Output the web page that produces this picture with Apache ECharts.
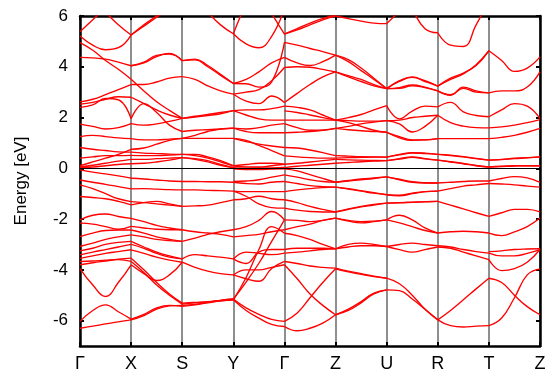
<!DOCTYPE html>
<html>
<head>
<meta charset="utf-8">
<script src="https://cdn.jsdelivr.net/npm/echarts@6/dist/echarts.min.js"></script>
<style>html,body{margin:0;padding:0;background:#fff}#c{width:551px;height:373px}</style>
</head>
<body>
<div id="c"></div>
<script>
// High-symmetry path labels (k = 0..9)
const kLabels = ['Γ','X','S','Y','Γ','Z','U','R','T','Z'];
const yTicks = [-6,-4,-2,0,2,4,6];

// Bands per path segment; each row = energies (eV) evenly spaced along the segment
const bandsGX = [
 [5.38,5.85,6.33,6.8,7.3],[5.21,4.85,4.67,4.75,5.25],[7.5,6.8,6.15,5.66,5.25],
 [4.95,4.65,4.25,3.9,3.51],[4.37,4.35,4.3,4.18,4.04],[2.62,2.72,2.9,3.1,3.3],
 [2.53,2.6,2.72,2.82,2.8],[2.4,2.5,2.75,2.7,1.95],[1.74,1.65,1.55,1.6,1.76],
 [1.25,1.3,1.25,1.2,1.17],[0.82,0.75,0.7,0.65,0.64],[0.4,0.45,0.5,0.5,0.51],
 [0.1,0.25,0.4,0.55,0.75],[0.05,0.12,0.2,0.28,0.35],[0.02,0.05,0.1,0.15,0.18],
 [-0.06,-0.15,-0.22,-0.3,-0.39],[-0.46,-0.55,-0.63,-0.72,-0.81],[-0.65,-0.8,-1.0,-1.2,-1.31],
 [-1.11,-1.15,-1.2,-1.3,-1.44],[-2.03,-1.85,-1.8,-1.9,-1.97],[-2.16,-2.2,-2.3,-2.4,-2.29],
 [-2.69,-2.55,-2.45,-2.43,-2.43],[-3.08,-2.95,-2.8,-2.7,-2.62],[-3.25,-3.15,-3.0,-2.92,-2.88],
 [-3.41,-3.3,-3.2,-3.1,-3.0],[-3.55,-3.45,-3.35,-3.28,-3.21],[-3.67,-3.65,-3.62,-3.6,-3.67],
 [-3.8,-3.72,-3.65,-3.58,-3.54],[-3.95,-4.6,-5.05,-4.5,-3.8],[-6.03,-5.6,-5.38,-5.65,-5.94],
 [-6.3,-6.22,-6.13,-6.05,-5.97]
];
const bandsXS = [
 [5.25,5.6,5.95,6.3,6.6],[5.25,5.65,6.0,6.35,6.7],[4.04,4.18,4.45,4.5,4.24],
 [4.04,4.15,4.4,4.53,4.24],[3.51,3.05,2.62,2.28,1.97],[3.3,3.3,3.4,3.55,3.61],
 [2.8,2.55,2.3,2.1,1.97],[1.95,2.55,2.2,1.7,1.45],[1.76,1.7,1.75,1.85,1.97],
 [1.17,1.12,1.12,1.15,1.18],[0.75,0.8,0.95,1.1,1.18],[0.64,0.6,0.58,0.56,0.55],
 [0.51,0.5,0.5,0.52,0.55],[0.35,0.35,0.38,0.4,0.42],[0.18,0.2,0.25,0.32,0.42],
 [-0.39,-0.42,-0.46,-0.5,-0.52],[-0.81,-0.8,-0.82,-0.84,-0.85],[-1.31,-1.35,-1.4,-1.45,-1.5],
 [-1.44,-1.35,-1.3,-1.4,-1.5],[-1.97,-2.1,-2.25,-2.35,-2.42],[-2.29,-2.35,-2.4,-2.42,-2.42],
 [-2.43,-2.55,-2.7,-2.8,-2.88],[-2.62,-2.7,-2.8,-2.85,-2.88],[-2.88,-3.1,-3.3,-3.45,-3.57],
 [-3.0,-3.15,-3.35,-3.5,-3.57],[-3.21,-3.35,-3.5,-3.62,-3.7],[-3.8,-4.15,-4.42,-4.2,-3.7],
 [-3.54,-4.0,-4.5,-4.95,-5.31],[-3.67,-4.1,-4.6,-5.0,-5.35],[-5.94,-5.75,-5.5,-5.4,-5.44],
 [-5.97,-5.8,-5.55,-5.42,-5.4]
];
const bandsSY = [
 [7.5,6.8,6.15,5.65,5.3],[4.24,4.3,4.05,3.7,3.34],[4.24,4.27,4.0,3.66,3.34],
 [3.61,3.5,3.25,3.05,2.92],[1.97,2.05,2.12,2.2,2.27],[1.97,2.02,2.08,2.15,2.27],
 [1.45,1.5,1.52,1.55,1.58],[1.18,1.18,1.18,1.18,1.18],[1.18,1.3,1.45,1.55,1.58],
 [0.55,0.55,0.45,0.3,0.1],[0.55,0.5,0.4,0.25,0.1],[0.42,0.38,0.3,0.15,0.03],
 [0.42,0.35,0.25,0.12,0.03],
 [-0.52,-0.52,-0.53,-0.53,-0.55],[-0.85,-0.85,-0.87,-0.88,-0.9],[-1.5,-1.48,-1.45,-1.35,-1.24],
 [-2.42,-2.5,-2.55,-2.6,-2.7],[-2.88,-2.75,-2.6,-2.5,-2.42],[-3.57,-3.4,-3.45,-3.5,-3.57],
 [-3.7,-3.9,-4.05,-4.15,-4.2],[-5.31,-5.28,-5.25,-5.2,-5.15],[-5.35,-5.3,-5.27,-5.22,-5.18],
 [-5.44,-5.38,-5.3,-5.22,-5.18],[-5.4,-5.36,-5.28,-5.2,-5.15]
];
const bandsYG = [
 [5.3,6.5,7.5,8.2,8.8],[5.3,4.9,4.75,5.2,6.3],[8.5,7.8,7.0,6.1,5.29],
 [3.34,3.5,3.8,4.15,4.37],[3.34,3.33,3.2,3.4,4.96],[2.92,2.65,2.55,2.85,2.59],
 [2.92,3.0,3.1,3.45,3.97],[2.27,2.3,2.3,2.35,2.45],[2.27,2.1,1.95,1.9,1.9],
 [1.58,1.55,1.6,1.7,1.76],[1.58,1.45,1.4,1.4,1.4],[1.18,1.05,0.95,0.88,0.82],
 [1.18,1.1,0.9,0.7,0.49],[0.1,0.15,0.2,0.2,0.16],[0.1,0.05,0.05,0.1,0.16],
 [0.03,0.0,0.02,0.02,0.03],
 [-0.02,-0.05,-0.05,-0.03,-0.02],[-0.52,-0.5,-0.45,-0.35,-0.26],[-0.55,-0.6,-0.62,-0.55,-0.52],
 [-0.9,-0.92,-0.92,-0.92,-0.92],[-0.9,-1.1,-1.4,-1.55,-1.57],[-1.24,-1.2,-1.1,-1.2,-1.24],
 [-2.42,-2.3,-2.05,-1.7,-2.03],[-2.7,-2.65,-2.6,-2.5,-2.42],[-3.57,-3.75,-3.3,-3.2,-3.2],
 [-3.57,-3.3,-3.35,-3.4,-3.34],[-4.2,-4.35,-4.45,-3.95,-3.67],[-4.2,-4.0,-4.0,-3.9,-3.8],
 [-5.15,-4.48,-3.74,-2.88,-2.03],[-5.18,-4.3,-3.2,-2.3,-2.56],[-5.15,-5.5,-5.75,-5.95,-6.03],
 [-5.18,-5.6,-5.9,-6.15,-6.23]
];
const bandsGZ = [
 [5.29,5.5,5.72,5.9,6.05],[5.29,5.45,5.65,5.85,6.0],[4.96,4.85,4.72,4.6,4.46],
 [4.37,4.15,4.05,4.2,4.46],[3.97,4.0,3.98,3.9,3.8],[2.59,2.95,3.3,3.6,3.8],
 [2.45,2.4,2.3,2.1,1.9],[2.26,2.2,2.1,2.0,1.9],[1.9,1.9,1.9,1.9,1.9],
 [1.76,1.6,1.5,1.5,1.57],[1.4,1.42,1.45,1.5,1.57],[0.82,0.8,0.72,0.62,0.5],
 [0.49,0.45,0.42,0.4,0.4],[0.16,0.2,0.25,0.3,0.35],[0.03,0.08,0.12,0.16,0.2],
 [-0.02,-0.1,-0.25,-0.4,-0.55],[-0.26,-0.35,-0.45,-0.52,-0.55],[-0.52,-0.6,-0.68,-0.72,-0.74],
 [-0.92,-0.85,-0.8,-0.76,-0.74],[-1.24,-1.35,-1.5,-1.62,-1.72],[-1.57,-1.65,-1.7,-1.72,-1.72],
 [-2.03,-2.05,-2.1,-2.05,-1.96],[-2.42,-2.3,-2.2,-2.05,-1.96],[-2.56,-2.65,-2.8,-3.0,-3.17],
 [-3.2,-3.15,-3.15,-3.15,-3.17],[-3.34,-3.3,-3.25,-3.2,-3.17],[-3.67,-3.75,-3.85,-3.9,-3.93],
 [-3.8,-4.35,-4.95,-5.4,-5.77],[-6.03,-5.7,-5.1,-4.5,-3.96],[-6.23,-6.4,-6.3,-6.1,-5.77]
];
const bandsZU = [
 [6.0,5.9,5.8,5.72,5.7],[6.05,6.2,6.4,6.6,6.8],[4.46,4.28,3.95,3.55,3.14],
 [4.46,4.2,3.85,3.5,3.14],[3.8,3.65,3.5,3.3,3.14],[3.8,3.6,3.42,3.25,3.14],
 [1.9,2.0,2.12,2.3,2.47],[1.9,1.8,1.65,1.5,1.42],[1.9,1.88,1.86,1.86,1.88],
 [1.57,1.65,1.75,1.82,1.88],[1.57,1.52,1.48,1.45,1.42],[0.5,0.48,0.46,0.45,0.44],
 [0.4,0.42,0.43,0.44,0.44],[0.35,0.33,0.32,0.31,0.3],[0.2,0.23,0.26,0.28,0.3],
 [-0.55,-0.48,-0.42,-0.38,-0.34],[-0.55,-0.5,-0.45,-0.4,-0.34],[-0.74,-0.82,-0.9,-0.98,-1.04],
 [-0.74,-0.8,-0.88,-0.96,-1.04],[-1.72,-1.62,-1.52,-1.45,-1.37],[-1.72,-1.6,-1.5,-1.42,-1.37],
 [-1.96,-2.05,-2.1,-2.08,-2.03],[-1.96,-2.08,-2.15,-2.1,-2.03],[-3.17,-3.0,-2.95,-3.0,-3.08],
 [-3.17,-3.1,-3.05,-3.05,-3.08],[-3.93,-4.05,-4.15,-4.25,-4.33],[-3.96,-4.08,-4.18,-4.27,-4.33],
 [-5.77,-5.6,-5.3,-4.95,-4.79],[-5.77,-5.55,-5.25,-4.92,-4.79]
];
const bandsUR = [
 [5.7,6.2,6.8,7.2,7.5],[7.8,7.0,6.25,5.5,5.34],[3.14,3.42,3.58,3.45,3.24],
 [3.14,3.45,3.6,3.42,3.24],[3.14,3.18,3.28,3.2,3.05],[3.14,3.15,3.25,3.18,3.05],
 [2.47,1.95,2.25,2.45,2.42],[1.88,1.75,1.43,1.65,2.09],[1.88,1.9,2.0,2.05,2.09],
 [1.42,1.2,1.1,1.12,1.17],[1.42,1.25,1.12,1.12,1.17],[0.44,0.55,0.62,0.6,0.55],
 [0.44,0.53,0.6,0.58,0.55],[0.3,0.38,0.45,0.38,0.32],[0.3,0.36,0.43,0.37,0.32],
 [-0.34,-0.45,-0.55,-0.58,-0.58],[-0.34,-0.43,-0.53,-0.57,-0.58],[-1.04,-1.08,-1.0,-0.92,-0.9],
 [-1.04,-1.06,-0.98,-0.92,-0.9],[-1.37,-1.35,-1.33,-1.31,-1.3],[-1.37,-1.36,-1.34,-1.32,-1.3],
 [-2.03,-1.85,-2.03,-2.35,-2.55],[-2.03,-2.15,-2.3,-2.45,-2.55],[-3.08,-3.2,-3.3,-3.2,-3.1],
 [-3.08,-3.0,-2.95,-3.0,-3.05],[-4.33,-4.55,-5.0,-5.55,-5.97],[-4.79,-4.82,-5.15,-5.55,-5.97]
];
const bandsRT = [
 [5.34,4.85,4.8,5.65,6.6],[3.24,3.55,3.75,4.05,4.63],[3.24,3.5,3.72,4.08,4.63],
 [3.05,2.88,3.2,3.05,2.97],[3.05,2.9,3.15,3.0,2.97],[2.42,2.6,2.22,2.08,2.03],
 [2.09,1.8,1.66,1.6,1.59],[1.17,1.17,1.17,1.17,1.17],[0.55,0.5,0.45,0.38,0.32],
 [0.55,0.52,0.46,0.39,0.32],[0.32,0.25,0.18,0.1,0.05],[0.32,0.26,0.19,0.11,0.05],
 [-0.58,-0.55,-0.52,-0.5,-0.5],[-0.9,-0.8,-0.7,-0.65,-0.6],[-1.3,-1.45,-1.6,-1.75,-1.89],
 [-2.55,-2.5,-2.48,-2.5,-2.55],[-3.1,-3.15,-3.3,-3.45,-3.6],[-3.05,-3.1,-3.2,-3.28,-3.34],
 [-5.97,-5.6,-5.18,-4.75,-4.33],[-5.97,-6.2,-6.25,-6.22,-6.2]
];
const bandsTZ = [
 [4.63,4.25,3.82,3.95,4.39],[2.97,3.05,3.05,3.2,3.8],[2.03,2.3,2.55,2.45,1.96],
 [1.59,1.63,1.7,1.8,1.92],[1.17,1.22,1.3,1.42,1.57],[0.32,0.35,0.4,0.42,0.45],
 [0.32,0.34,0.38,0.41,0.45],[0.05,0.08,0.1,0.1,0.1],[0.05,0.07,0.09,0.1,0.1],
 [-0.5,-0.4,-0.33,-0.38,-0.55],[-0.6,-0.62,-0.65,-0.7,-0.74],[-1.89,-1.75,-1.62,-1.62,-1.72],
 [-2.55,-2.65,-2.5,-2.3,-1.96],[-3.28,-3.25,-3.2,-3.18,-3.17],[-3.34,-3.45,-3.45,-3.35,-3.2],
 [-3.6,-4.03,-3.95,-3.7,-3.2],[-4.33,-4.5,-5.0,-5.45,-5.77],[-6.2,-5.9,-5.1,-4.2,-3.96]
];

const segments = [bandsGX, bandsXS, bandsSY, bandsYG, bandsGZ, bandsZU, bandsUR, bandsRT, bandsTZ];

const series = [];
segments.forEach((seg, s) => {
  seg.forEach(vals => {
    series.push({
      type: 'line', xAxisIndex: 0, yAxisIndex: 0,
      data: vals.map((v, i) => [s + i / (vals.length - 1), v]),
      smooth: 0.45, symbol: 'none', silent: true,
      lineStyle: { color: '#ff0000', width: 1.35 }, z: 3
    });
  });
});
series[0].markLine = {
  silent: true, symbol: 'none', animation: false,
  label: { show: false },
  lineStyle: { color: '#000', width: 1, type: 'solid' },
  data: [{ yAxis: 0 }]
};

const tickStyle = { show: true, inside: true, length: 4, lineStyle: { color: '#000', width: 2 } };
const lineAx = { show: true, onZero: false, lineStyle: { color: '#000', width: 2.5 } };
const font = 'Liberation Sans, Arial, sans-serif';

const chart = echarts.init(document.getElementById('c'), null, { renderer: 'canvas' });
chart.setOption({
  animation: false,
  backgroundColor: '#fff',
  grid: { left: 80, right: 11, top: 16, bottom: 27, containLabel: false },
  xAxis: [
    { type: 'value', min: 0, max: 9, interval: 1, position: 'bottom',
      axisLine: lineAx, axisTick: tickStyle,
      axisLabel: { show: true, margin: 9, color: '#000', fontSize: 18, fontFamily: font,
        formatter: v => kLabels[Math.round(v)] },
      splitLine: { show: true, lineStyle: { color: '#6a6a6a', width: 1.5 } } },
    { type: 'value', min: 0, max: 9, interval: 1, position: 'top',
      axisLine: lineAx, axisTick: tickStyle, axisLabel: { show: false }, splitLine: { show: false } }
  ],
  yAxis: [
    { type: 'value', min: -7, max: 6, interval: 1, position: 'left',
      name: 'Energy [eV]', nameLocation: 'middle', nameGap: 50, nameRotate: 90,
      nameTextStyle: { color: '#000', fontSize: 17, fontFamily: font },
      axisLine: lineAx,
      axisTick: Object.assign({}, tickStyle, { customValues: yTicks }),
      axisLabel: { show: true, margin: 12, color: '#000', fontSize: 17, fontFamily: font,
        customValues: yTicks, formatter: v => (Math.round(v) % 2 === 0 ? String(Math.round(v)) : '') },
      splitLine: { show: false } },
    { type: 'value', min: -7, max: 6, interval: 1, position: 'right',
      axisLine: lineAx,
      axisTick: Object.assign({}, tickStyle, { customValues: yTicks }),
      axisLabel: { show: false }, splitLine: { show: false } }
  ],
  series: series
});
</script>
</body>
</html>
